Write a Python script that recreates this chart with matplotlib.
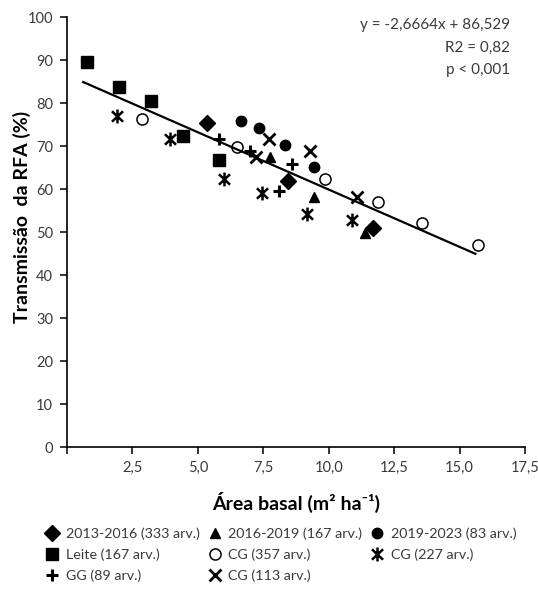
import numpy as np
import matplotlib
matplotlib.use('Agg')
import matplotlib.pyplot as plt
from matplotlib.path import Path
from matplotlib.ticker import MultipleLocator, FuncFormatter

plt.rcParams['font.family'] = ['Lato', 'DejaVu Sans']

# data
x_2013 = [5.33, 8.46, 11.69]
y_2013 = [75.3, 61.8, 51.0]
x_2016 = [7.75, 9.42, 11.40]
y_2016 = [67.4, 58.1, 49.7]
x_2019 = [6.63, 7.34, 8.31, 9.42]
y_2019 = [75.7, 74.3, 70.2, 65.2]
x_leite = [0.75, 2.00, 3.22, 4.42, 5.79]
y_leite = [89.6, 83.8, 80.5, 72.4, 66.7]
x_cg357 = [2.85, 6.49, 9.86, 11.88, 13.57, 15.72]
y_cg357 = [76.3, 69.8, 62.3, 56.9, 52.2, 47.0]
x_cg227 = [1.92, 3.93, 5.99, 7.44, 9.15, 10.90]
y_cg227 = [77.0, 71.6, 62.3, 59.0, 54.2, 52.8]
x_gg89 = [5.79, 6.98, 8.61, 8.10]
y_gg89 = [71.6, 68.9, 65.7, 59.6]
x_cg113 = [7.70, 7.21, 9.27, 11.06]
y_cg113 = [71.7, 67.5, 68.9, 58.2]

slope, intercept = -2.6664, 86.529
fit_x = [0.62, 15.6]

# asterisk: vertical bar plus an x
star = Path([(0, -1), (0, 1), (-0.8, -0.75), (0.8, 0.75), (-0.8, 0.75), (0.8, -0.75)],
            [Path.MOVETO, Path.LINETO, Path.MOVETO, Path.LINETO, Path.MOVETO, Path.LINETO])

fig = plt.figure(figsize=(5.38, 6.03), dpi=100)
ax = fig.add_axes([0.1245, 0.2587, 0.8515, 0.7131])

k = 'black'
txt = '#3a3a3a'

# legend is filled column by column: diamond/square/plus, triangle/open circle/x, circle/asterisk
ax.plot(x_2013, y_2013, 'D', color=k, ms=8, ls='none', label='2013-2016 (333 arv.)')
ax.plot(x_leite, y_leite, 's', color=k, ms=8, ls='none', label='Leite (167 arv.)')
ax.plot(x_gg89, y_gg89, '+', color=k, ms=9, mew=2.2, ls='none', label='GG (89 arv.)')
ax.plot(x_2016, y_2016, '^', color=k, ms=7.5, ls='none', label='2016-2019 (167 arv.)')
ax.plot(x_cg357, y_cg357, 'o', mfc='white', mec=k, mew=1.1, ms=8, ls='none', label='CG (357 arv.)')
ax.plot(x_cg113, y_cg113, 'x', color=k, ms=8.5, mew=2, ls='none', label='CG (113 arv.)')
ax.plot(x_2019, y_2019, 'o', color=k, ms=7.5, ls='none', label='2019-2023 (83 arv.)')
ax.plot(x_cg227, y_cg227, marker=star, mfc='none', mec=k, ms=10, mew=1.8, ls='none', label='CG (227 arv.)')

fx = np.array(fit_x)
ax.plot(fx, slope * fx + intercept, color=k, lw=1.6)

ax.set_xlim(0, 17.5)
ax.set_ylim(0, 100)
ax.xaxis.set_major_locator(MultipleLocator(2.5))
ax.yaxis.set_major_locator(MultipleLocator(10))
ax.xaxis.set_major_formatter(FuncFormatter(lambda v, p: '' if v == 0 else ('%.1f' % v).replace('.', ',')))

for s in ['top', 'right']:
    ax.spines[s].set_visible(False)
for s in ['left', 'bottom']:
    ax.spines[s].set_linewidth(1.2)

ax.tick_params(axis='both', direction='out', length=5, width=1.1, labelsize=10.5,
               labelcolor=txt, pad=5)

ax.set_xlabel('Área basal (m² ha⁻¹)', fontsize=14, fontweight='bold', labelpad=12)
ax.set_ylabel('Transmissão  da RFA (%)', fontsize=14, fontweight='bold')
ax.yaxis.set_label_coords(-0.078, 0.535)

ax.text(0.967, 0.998, 'y = -2,6664x + 86,529\nR2 = 0,82\np < 0,001', transform=ax.transAxes,
        ha='right', va='top', fontsize=11, color=txt, linespacing=1.8)

fig.legend(loc='upper left', bbox_to_anchor=(0.084, 0.125), ncol=3, frameon=False,
           fontsize=10.3, handlelength=1.0, handletextpad=0.45, columnspacing=0.55,
           labelspacing=0.58, labelcolor=txt, borderpad=0, borderaxespad=0)

fig.savefig('out.png', dpi=100)
